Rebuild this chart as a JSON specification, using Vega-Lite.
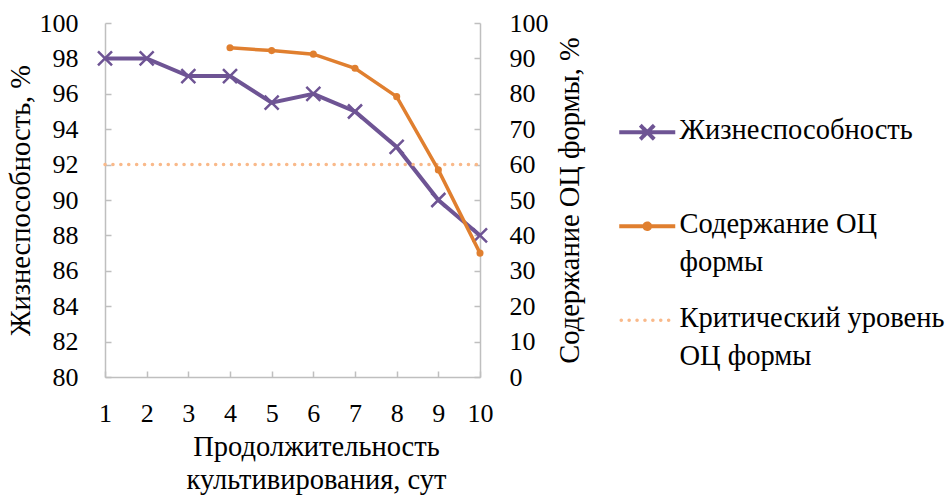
{
  "$schema": "https://vega.github.io/schema/vega-lite/v6.json",
  "autosize": {"type": "none"},
  "padding": {"left": 105, "top": 23, "right": 472, "bottom": 118},
  "width": 375,
  "height": 354,
  "background": "white",
  "config": {
    "view": {"stroke": null},
    "font": "Liberation Serif",
    "axis": {
      "labelFont": "Liberation Serif",
      "titleFont": "Liberation Serif",
      "labelFontSize": 26,
      "titleFontSize": 28.5,
      "titleFontWeight": "normal",
      "labelColor": "black",
      "titleColor": "black",
      "domainColor": "#BFBFBF",
      "domainWidth": 1.5,
      "tickColor": "#BFBFBF",
      "tickWidth": 1.5,
      "grid": false
    },
    "legend": {
      "labelFont": "Liberation Serif",
      "labelFontSize": 28.5,
      "labelColor": "black"
    }
  },
  "datasets": {
    "viab": [
      {"day": 1, "value": 98, "series": "Жизнеспособность"},
      {"day": 2, "value": 98, "series": "Жизнеспособность"},
      {"day": 3, "value": 97, "series": "Жизнеспособность"},
      {"day": 4, "value": 97, "series": "Жизнеспособность"},
      {"day": 5, "value": 95.5, "series": "Жизнеспособность"},
      {"day": 6, "value": 96, "series": "Жизнеспособность"},
      {"day": 7, "value": 95, "series": "Жизнеспособность"},
      {"day": 8, "value": 93, "series": "Жизнеспособность"},
      {"day": 9, "value": 90, "series": "Жизнеспособность"},
      {"day": 10, "value": 88, "series": "Жизнеспособность"}
    ],
    "oc": [
      {"day": 4, "value": 93, "series": "Содержание ОЦ формы"},
      {"day": 5, "value": 92.2, "series": "Содержание ОЦ формы"},
      {"day": 6, "value": 91.2, "series": "Содержание ОЦ формы"},
      {"day": 7, "value": 87.2, "series": "Содержание ОЦ формы"},
      {"day": 8, "value": 79.2, "series": "Содержание ОЦ формы"},
      {"day": 9, "value": 58.5, "series": "Содержание ОЦ формы"},
      {"day": 10, "value": 35, "series": "Содержание ОЦ формы"}
    ],
    "crit": [
      {"day": 1, "value": 60, "series": "Критический уровень ОЦ формы"},
      {"day": 10, "value": 60, "series": "Критический уровень ОЦ формы"}
    ]
  },
  "encoding": {
    "x": {
      "field": "day",
      "type": "quantitative",
      "scale": {"domain": [1, 10], "nice": false, "zero": false},
      "axis": {
        "values": [1, 2, 3, 4, 5, 6, 7, 8, 9, 10],
        "tickSize": -6,
        "labelPadding": 29,
        "labelFlush": false,
        "title": ["Продолжительность", "культивирования, сут"],
        "titleX": 211,
        "titlePadding": 6,
        "titleLineHeight": 33
      }
    },
    "color": {
      "field": "series",
      "type": "nominal",
      "scale": {
        "domain": ["Жизнеспособность", "Содержание ОЦ формы", "Критический уровень ОЦ формы"],
        "range": ["#6E5494", "#E07F2F", "#F9B98A"]
      },
      "legend": {
        "title": null,
        "orient": "none",
        "legendX": 514,
        "legendY": 95,
        "padding": 0,
        "symbolType": "stroke",
        "symbolSize": 3136,
        "symbolStrokeWidth": 4,
        "symbolOffset": 14,
        "labelOffset": 18,
        "rowPadding": 27,
        "labelBaseline": "top",
        "labelExpr": "datum.value === 'Содержание ОЦ формы' ? ['Содержание ОЦ', 'формы'] : datum.value === 'Критический уровень ОЦ формы' ? ['Критический уровень', 'ОЦ формы'] : [datum.label, ' ']",
        "labelLimit": 400,
        "encode": {
          "labels": {
            "update": {
              "dy": {"value": -16},
              "lineHeight": {"value": 38}
            }
          },
          "symbols": {
            "update": {
              "shape": {"signal": "datum.value === 'Жизнеспособность' ? 'M-1,0L1,0M-0.25,-0.25L0.25,0.25M-0.25,0.25L0.25,-0.25' : datum.value === 'Содержание ОЦ формы' ? 'M-1,0L1,0M-0.1,0A0.1,0.1,0,1,1,0.1,0A0.1,0.1,0,1,1,-0.1,0Z' : 'M-0.93,0L1,0'"},
              "strokeDash": {"signal": "datum.value === 'Критический уровень ОЦ формы' ? [0.1, 7.8] : [1, 0]"},
              "strokeCap": {"signal": "datum.value === 'Критический уровень ОЦ формы' ? 'round' : 'butt'"},
              "fill": {"signal": "datum.value === 'Содержание ОЦ формы' ? '#E07F2F' : 'transparent'"},
              "strokeWidth": {"signal": "datum.value === 'Критический уровень ОЦ формы' ? 3.5 : 4"}
            }
          }
        }
      }
    }
  },
  "layer": [
    {
      "data": {"name": "viab"},
      "encoding": {
        "y": {
          "field": "value",
          "type": "quantitative",
          "scale": {"domain": [80, 100], "nice": false, "zero": false},
          "axis": {
            "orient": "left",
            "values": [80, 82, 84, 86, 88, 90, 92, 94, 96, 98, 100],
            "tickSize": -6,
            "labelPadding": 33,
            "title": "Жизнеспособность, %",
            "titlePadding": 4
          }
        }
      },
      "layer": [
        {"mark": {"type": "line", "strokeWidth": 4}},
        {
          "mark": {
            "type": "point",
            "shape": "M-1,-1L1,1M-1,1L1,-1",
            "filled": false,
            "size": 196,
            "strokeWidth": 2.5,
            "opacity": 1
          }
        }
      ]
    },
    {
      "layer": [
        {
          "data": {"name": "crit"},
          "mark": {"type": "line", "strokeWidth": 3.5, "strokeDash": [0.1, 7.8], "strokeCap": "round"},
          "encoding": {
            "y": {"field": "value", "type": "quantitative"}
          }
        },
        {
          "data": {"name": "oc"},
          "mark": {"type": "line", "strokeWidth": 3.5},
          "encoding": {
            "y": {"field": "value", "type": "quantitative"}
          }
        },
        {
          "data": {"name": "oc"},
          "mark": {"type": "point", "shape": "circle", "filled": true, "size": 50, "opacity": 1},
          "encoding": {
            "y": {"field": "value", "type": "quantitative"}
          }
        }
      ],
      "encoding": {
        "y": {
          "field": "value",
          "type": "quantitative",
          "scale": {"domain": [0, 100], "nice": false},
          "axis": {
            "orient": "right",
            "values": [0, 10, 20, 30, 40, 50, 60, 70, 80, 90, 100],
            "tickSize": -6,
            "labelPadding": 35,
            "title": "Содержание ОЦ формы, %",
            "titleAngle": 270,
            "titlePadding": 36
          }
        }
      }
    }
  ],
  "resolve": {"scale": {"y": "independent"}}
}
